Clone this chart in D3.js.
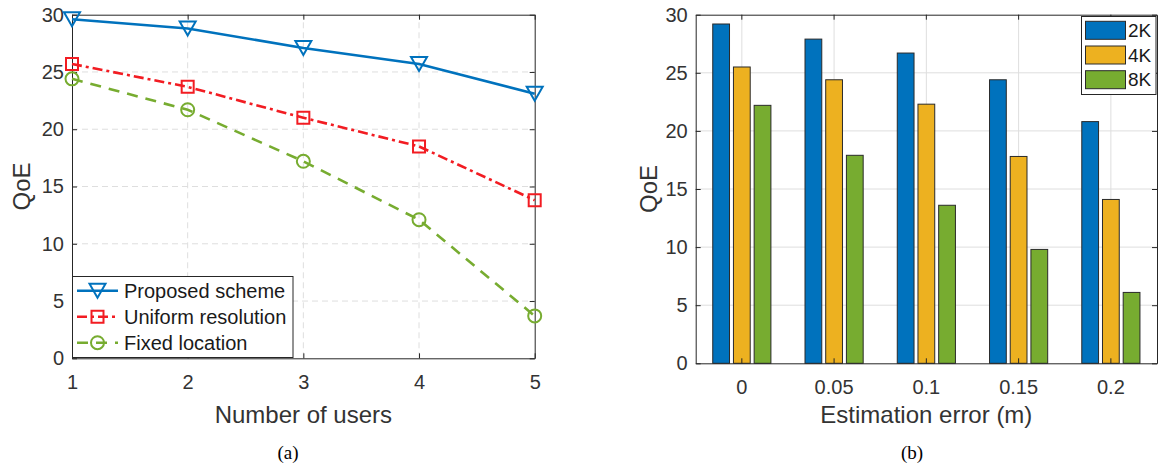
<!DOCTYPE html>
<html>
<head>
<meta charset="utf-8">
<title>QoE vs users / estimation error</title>
<script src="https://d3js.org/d3.v7.min.js"></script>
<style>
    body { margin: 0; background: #fff; }
    svg { display: block; font-family: "Liberation Sans", Arial, Helvetica, sans-serif; }
    .tick text { fill: #333; font-size: 20px; }
</style>
</head>
<body>
<svg width="1159" height="468"></svg>
<script>
    // (a) QoE vs number of users
    var users = [1, 2, 3, 4, 5];
    var proposed = [29.6, 28.8, 27.1, 25.7, 23.1];
    var uniform = [25.7, 23.7, 21.0, 18.5, 13.8];
    var fixedLoc = [24.4, 21.7, 17.2, 12.1, 3.7];

    // (b) QoE vs estimation error
    var errors = ["0", "0.05", "0.1", "0.15", "0.2"];
    var res = ["2K", "4K", "8K"];
    var q2K = [29.2, 27.9, 26.7, 24.4, 20.8];
    var q4K = [25.5, 24.4, 22.3, 17.8, 14.1];
    var q8K = [22.2, 17.9, 13.6, 9.8, 6.1];

    var yTicks = [0, 5, 10, 15, 20, 25, 30];

    var svg = d3.select("svg");
    var axisColor = "#262626";
    var gridColor = "#dedede";

    // draws box + inward ticks on all four sides
    function drawAxes(g, x, y, xTicks, xFmt, left, right, top, bottom) {
        var ax = [
            g.append("g").attr("transform", "translate(0," + bottom + ")")
                .call(d3.axisBottom(x).tickValues(xTicks).tickFormat(xFmt).tickSizeInner(-5).tickSizeOuter(0).tickPadding(17)),
            g.append("g").attr("transform", "translate(0," + top + ")")
                .call(d3.axisTop(x).tickValues(xTicks).tickSizeInner(-5).tickSizeOuter(0).tickFormat("")),
            g.append("g").attr("transform", "translate(" + left + ",0)")
                .call(d3.axisLeft(y).tickValues(yTicks).tickSizeInner(-5).tickSizeOuter(0).tickPadding(8)),
            g.append("g").attr("transform", "translate(" + right + ",0)")
                .call(d3.axisRight(y).tickValues(yTicks).tickSizeInner(-5).tickSizeOuter(0).tickFormat(""))
        ];
        ax.forEach(function(a) {
            a.selectAll(".domain, .tick line").attr("stroke", axisColor).attr("stroke-width", 1);
            a.selectAll(".tick text").attr("font-family", null).attr("font-size", null);
        });
    }

    function markerPath(type) {
        if (type === "tri") return "M-8,-7L8,-7L0,7Z";
        if (type === "sq") return "M-6,-6H6V6H-6Z";
        return d3.arc()({innerRadius: 0, outerRadius: 6.5, startAngle: 0, endAngle: 2 * Math.PI});
    }

    // ---------------- (a) ----------------
    var xa = d3.scaleLinear().domain([1, 5]).range([72, 534.7]),
        ya = d3.scaleLinear().domain([0, 30]).range([358.3, 14.7]);
    var ga = svg.append("g");

    // dashed grid
    ga.selectAll(".vgrid").data(users.slice(1, -1)).enter().append("line")
        .attr("x1", function(d) { return xa(d); }).attr("x2", function(d) { return xa(d); })
        .attr("y1", ya(0)).attr("y2", ya(30))
        .attr("stroke", gridColor).attr("stroke-dasharray", "6,4");
    ga.selectAll(".hgrid").data(yTicks.slice(1, -1)).enter().append("line")
        .attr("y1", function(d) { return ya(d); }).attr("y2", function(d) { return ya(d); })
        .attr("x1", xa(1)).attr("x2", xa(5))
        .attr("stroke", gridColor).attr("stroke-dasharray", "6,4");

    drawAxes(ga, xa, ya, users, d3.format("d"), 72, 534.7, 14.7, 358.3);

    var series = [
        {name: "Proposed scheme", values: proposed, color: "#0072BD", dash: null, marker: "tri"},
        {name: "Uniform resolution", values: uniform, color: "#F21C22", dash: "10,4,3,4", marker: "sq"},
        {name: "Fixed location", values: fixedLoc, color: "#77AC30", dash: "11,8", marker: "circ"}
    ];

    var line = d3.line()
        .x(function(d, i) { return xa(users[i]); })
        .y(function(d) { return ya(d); });

    series.forEach(function(s) {
        ga.append("path")
            .attr("d", line(s.values))
            .attr("fill", "none")
            .attr("stroke", s.color)
            .attr("stroke-width", 2.6)
            .attr("stroke-dasharray", s.dash);
        ga.selectAll(null).data(s.values).enter().append("path")
            .attr("d", markerPath(s.marker))
            .attr("transform", function(d, i) { return "translate(" + xa(users[i]) + "," + ya(d) + ")"; })
            .attr("fill", "none")
            .attr("stroke", s.color)
            .attr("stroke-width", 2);
    });

    // legend (a)
    var lega = ga.append("g");
    lega.append("rect")
        .attr("x", 72.5).attr("y", 276.5).attr("width", 220.5).attr("height", 81)
        .attr("fill", "#fff").attr("stroke", axisColor);
    series.forEach(function(s, i) {
        var yy = 290.7 + i * 26;
        lega.append("line")
            .attr("x1", 77).attr("x2", 118).attr("y1", yy).attr("y2", yy)
            .attr("stroke", s.color).attr("stroke-width", 2.6)
            .attr("stroke-dasharray", s.dash);
        lega.append("path")
            .attr("d", markerPath(s.marker))
            .attr("transform", "translate(97.5," + yy + ")")
            .attr("fill", "none").attr("stroke", s.color).attr("stroke-width", 2);
        lega.append("text")
            .attr("x", 124).attr("y", yy).attr("dy", "0.35em")
            .attr("font-size", 20).attr("fill", "#1a1a1a")
            .text(s.name);
    });

    ga.append("text")
        .attr("transform", "translate(30," + ((14.7 + 358.3) / 2) + ") rotate(-90)")
        .attr("text-anchor", "middle").attr("font-size", 24).attr("fill", "#333")
        .text("QoE");
    ga.append("text")
        .attr("x", (72 + 534.7) / 2).attr("y", 423)
        .attr("text-anchor", "middle").attr("font-size", 24).attr("fill", "#333")
        .text("Number of users");

    // ---------------- (b) ----------------
    var xb = d3.scaleBand().domain(errors).range([695.7, 1157]),
        xin = d3.scaleBand().domain(res).range([-31.05, 31.05]).paddingInner(0.19).paddingOuter(0.095),
        yb = d3.scaleLinear().domain([0, 30]).range([363.3, 14.7]);
    var colors = d3.scaleOrdinal().domain(res).range(["#0072BD", "#EDB120", "#77AC30"]);
    var gb = svg.append("g");

    // solid grid
    gb.selectAll(".vgrid").data(errors).enter().append("line")
        .attr("x1", function(d) { return xb(d) + xb.bandwidth() / 2; })
        .attr("x2", function(d) { return xb(d) + xb.bandwidth() / 2; })
        .attr("y1", yb(0)).attr("y2", yb(30))
        .attr("stroke", gridColor);
    gb.selectAll(".hgrid").data(yTicks.slice(1, -1)).enter().append("line")
        .attr("y1", function(d) { return yb(d); }).attr("y2", function(d) { return yb(d); })
        .attr("x1", 695.7).attr("x2", 1157)
        .attr("stroke", gridColor);

    var table = errors.map(function(e, i) {
        return {err: e, vals: [q2K[i], q4K[i], q8K[i]]};
    });

    gb.selectAll(".grp").data(table).enter().append("g")
        .attr("transform", function(d) { return "translate(" + (xb(d.err) + xb.bandwidth() / 2) + ",0)"; })
        .selectAll("rect")
        .data(function(d) { return d.vals.map(function(v, j) { return {key: res[j], v: v}; }); })
        .enter().append("rect")
        .attr("x", function(d) { return xin(d.key); })
        .attr("y", function(d) { return yb(d.v); })
        .attr("width", xin.bandwidth())
        .attr("height", function(d) { return yb(0) - yb(d.v); })
        .attr("fill", function(d) { return colors(d.key); })
        .attr("stroke", "#2a2a2a").attr("stroke-width", 1);

    drawAxes(gb, xb, yb, errors, null, 695.7, 1157, 14.7, 363.3);

    // legend (b)
    var legb = gb.append("g");
    legb.append("rect")
        .attr("x", 1081.5).attr("y", 16.5).attr("width", 74.5).attr("height", 78)
        .attr("fill", "#fff").attr("stroke", axisColor);
    res.forEach(function(r, i) {
        var top = 21.3 + i * 24.7;
        legb.append("rect")
            .attr("x", 1085.5).attr("y", top).attr("width", 40).attr("height", 18)
            .attr("fill", colors(r)).attr("stroke", "#2a2a2a");
        legb.append("text")
            .attr("x", 1128).attr("y", top + 9).attr("dy", "0.35em")
            .attr("font-size", 19).attr("fill", "#1a1a1a")
            .text(r);
    });

    gb.append("text")
        .attr("transform", "translate(657," + ((14.7 + 363.3) / 2) + ") rotate(-90)")
        .attr("text-anchor", "middle").attr("font-size", 24).attr("fill", "#333")
        .text("QoE");
    gb.append("text")
        .attr("x", (695.7 + 1157) / 2).attr("y", 423)
        .attr("text-anchor", "middle").attr("font-size", 24).attr("fill", "#333")
        .text("Estimation error (m)");

    // captions
    svg.selectAll(".cap").data([["(a)", 288], ["(b)", 912]]).enter().append("text")
        .attr("x", function(d) { return d[1]; }).attr("y", 459)
        .attr("text-anchor", "middle")
        .attr("font-family", "'Liberation Serif', 'Times New Roman', serif")
        .attr("font-size", 19).attr("fill", "#000")
        .text(function(d) { return d[0]; });
</script>
</body>
</html>
